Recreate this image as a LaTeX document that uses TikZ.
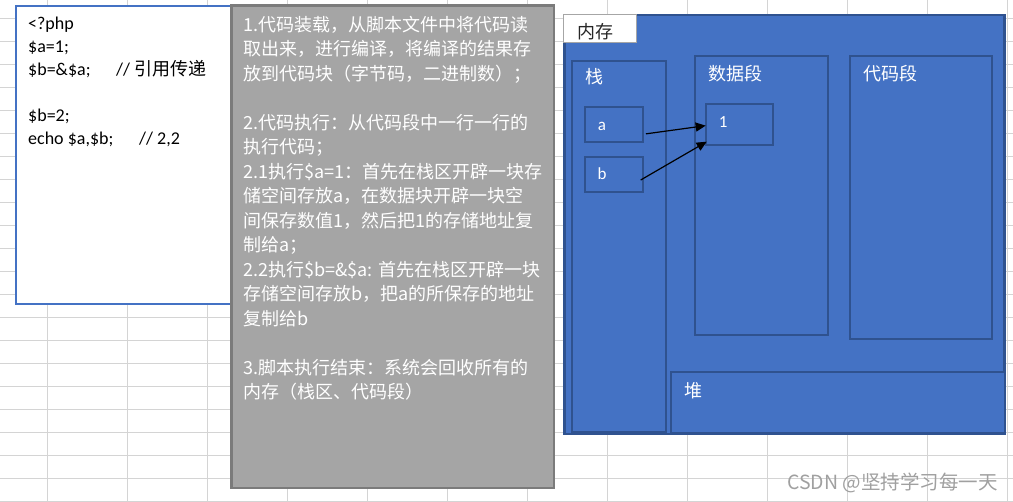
\documentclass[tikz,border=0pt]{standalone}
\usepackage{fontspec}
\setmainfont{Carlito}
\newfontfamily\cjk{Noto Sans CJK SC}
\usetikzlibrary{arrows.meta,calc}
\definecolor{memblue}{HTML}{4472C4}
\definecolor{memborder}{HTML}{2F528F}
\definecolor{grayfill}{HTML}{A5A5A5}
\definecolor{grayborder}{HTML}{7B7B7B}
\definecolor{gridcol}{HTML}{D4D4D4}
\definecolor{wmark}{HTML}{A0A0A0}
\begin{document}
\begin{tikzpicture}[x=1pt,y=-1pt,
  gridline/.style={draw=gridcol,line width=1pt},
  codebox/.style={rectangle,draw=memblue,line width=2pt,fill=white,inner sep=0pt,outer sep=0pt,anchor=north west},
  notebox/.style={rectangle,draw=grayborder,line width=2.7pt,fill=grayfill,inner sep=0pt,outer sep=0pt,anchor=north west},
  membox/.style={rectangle,draw=memborder,line width=2pt,fill=memblue,inner sep=0pt,outer sep=0pt,anchor=north west},
  tagbox/.style={rectangle,draw=gray!70,line width=1.3pt,fill=white,inner sep=0pt,outer sep=0pt,anchor=north west},
  ctext/.style={anchor=base west,inner sep=0pt,text=black,font=\fontsize{18}{22}\selectfont},
  gtext/.style={anchor=base west,inner sep=0pt,text=white,font=\cjk\fontsize{18}{22}\selectfont},
  mlabel/.style={anchor=base west,inner sep=0pt,text=white,font=\cjk\fontsize{18}{22}\selectfont},
  vlabel/.style={anchor=base west,inner sep=0pt,text=white,font=\fontsize{17}{20}\selectfont},
  link/.style={draw=black,line width=1.2pt,-{Triangle[length=10pt,width=9pt]}}]
\useasboundingbox[fill=white] (0,0) rectangle (1013,502);
% spreadsheet grid
\foreach \gx in {47,127,...,1007} \draw[gridline] (\gx,0) -- (\gx,502);
\foreach \gy in {18.3,41.3,...,502} \draw[gridline] (0,\gy) -- (1013,\gy);

% code box
\node[codebox,minimum width=220pt,minimum height=298.6pt] (code) at (15.7,5.7) {};
\node[ctext] (c1) at (28,30) {<?php};
\node[ctext] (c2) at (28,53) {\$a=1;};
\node[ctext] (c3) at (28,76) {\makebox[88pt][l]{\$b=\&\$a;}// {\cjk 引用传递}};
\node[ctext] (c5) at (28,122) {\$b=2;};
\node[ctext] (c6) at (28,145) {\makebox[111pt][l]{echo \$a,\$b;}// 2,2};

% notes box
\node[notebox,minimum width=322.7pt,minimum height=482.7pt] (notes) at (231.3,5.3) {};
\node[gtext] (g1) at (243,31.5) {1.代码装载，从脚本文件中将代码读};
\node[gtext] (g2) at (243,56) {取出来，进行编译，将编译的结果存};
\node[gtext] (g3) at (243,80.4) {放到代码块（字节码，二进制数）；};
\node[gtext] (g5) at (243,129.4) {2.代码执行：从代码段中一行一行的};
\node[gtext] (g6) at (243,153.9) {执行代码；};
\node[gtext] (g7) at (243,178.3) {2.1执行\$a=1：首先在栈区开辟一块存};
\node[gtext] (g8) at (243,202.8) {储空间存放a，在数据块开辟一块空};
\node[gtext] (g9) at (243,227.3) {间保存数值1，然后把1的存储地址复};
\node[gtext] (g10) at (243,251.7) {制给a；};
\node[gtext] (g11) at (243,276.2) {2.2执行\$b=\&\$a: 首先在栈区开辟一块};
\node[gtext] (g12) at (243,300.7) {存储空间存放b，把a的所保存的地址};
\node[gtext] (g13) at (243,325.1) {复制给b};
\node[gtext] (g15) at (243,374.1) {3.脚本执行结束：系统会回收所有的};
\node[gtext] (g16) at (243,398.5) {内存（栈区、代码段）};

% memory
\node[membox,line width=2.3pt,minimum width=440pt,minimum height=419.3pt] (mem) at (564.5,15) {};
\node[tagbox,minimum width=73pt,minimum height=28pt] (memtag) at (563.7,14.3) {};
\node[anchor=base west,inner sep=0pt,text=black!85,font=\cjk\fontsize{18}{22}\selectfont] (memtxt) at (577,39) {内存};

\node[membox,minimum width=94pt,minimum height=370.7pt] (stack) at (572,61) {};
\node[mlabel] (stacktxt) at (585,83.5) {栈};
\node[membox,minimum width=58pt,minimum height=35.3pt] (a) at (585,107) {};
\node[vlabel] (atxt) at (597.7,130.7) {a};
\node[membox,minimum width=58pt,minimum height=35pt] (b) at (585,157) {};
\node[vlabel] (btxt) at (597.3,180) {b};

\node[membox,minimum width=133.3pt,minimum height=279.3pt] (data) at (695,56) {};
\node[mlabel] (datatxt) at (708,80.5) {数据段};
\node[membox,minimum width=67pt,minimum height=40.7pt] (one) at (706,104.3) {};
\node[vlabel] (onetxt) at (718.7,127.3) {1};

\node[membox,minimum width=142.3pt,minimum height=282.7pt] (codeseg) at (850,56) {};
\node[mlabel] (codesegtxt) at (863,80.5) {代码段};

\node[membox,minimum width=334.3pt,minimum height=61pt] (heap) at (671,371.7) {};
\node[mlabel] (heaptxt) at (684,397.5) {堆};

% references
\draw[link] ($(a.east)+(3,9.2)$) -- ($(one.west)+(-0.3,1)$);
\draw[link] ($(b.east)+(-2.3,5.5)$) -- ($(one.south west)+(0.7,-3.3)$);

% watermark
\node[anchor=base west,inner sep=0pt,text=wmark,font=\cjk\fontsize{19.5}{22}\selectfont] (wm) at (787,490) {CSDN @坚持学习每一天};
\end{tikzpicture}
\end{document}
